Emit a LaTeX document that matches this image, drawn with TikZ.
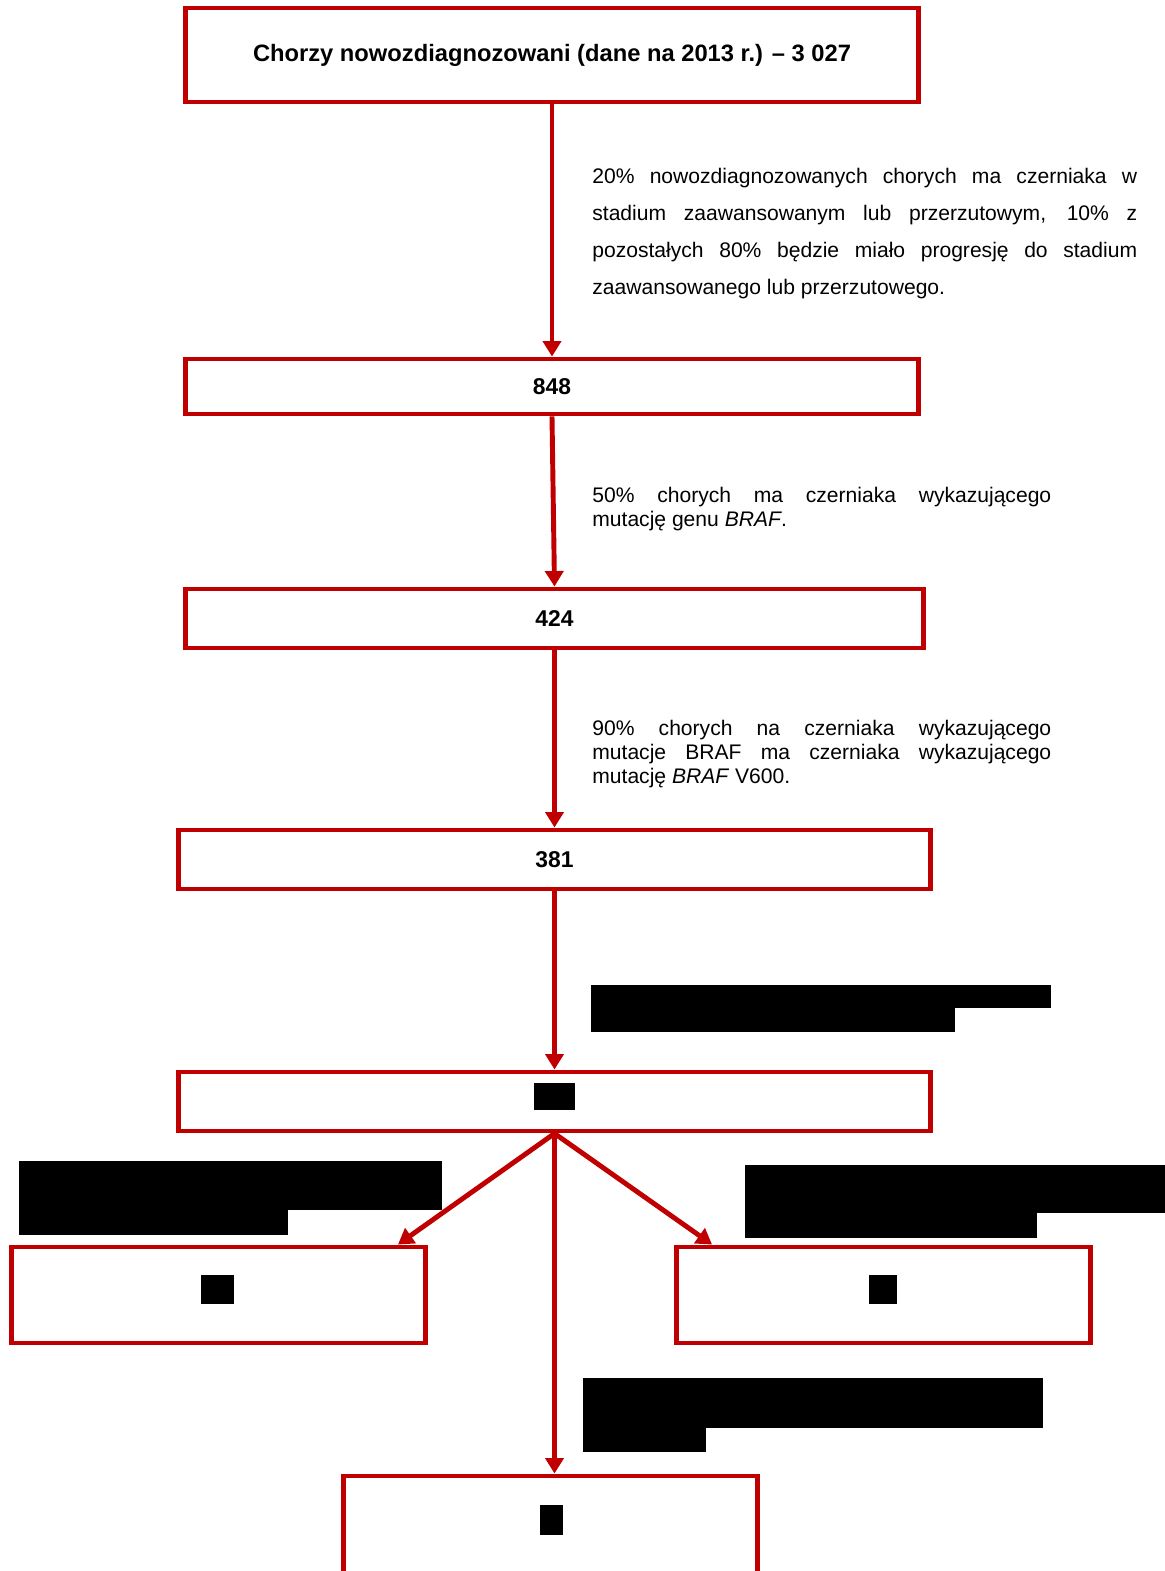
\documentclass[tikz,border=0pt]{standalone}
\usepackage{fontspec}
\setmainfont{Liberation Sans}
\usetikzlibrary{arrows.meta,calc}
\definecolor{flowred}{HTML}{C00000}
\hyphenpenalty=10000
\exhyphenpenalty=10000
\begin{document}
\begin{tikzpicture}[x=0.02cm, y=-0.02cm,
    box/.style={rectangle, draw=flowred, line width=2.8pt, minimum width=15.04cm, minimum height=1.18cm, inner sep=0pt, font=\fontsize{13}{15}\selectfont\bfseries},
    note/.style={anchor=base west, inner sep=0pt, align=justify, text width=9.18cm, font=\fontsize{12}{13.9}\selectfont},
    link/.style={draw=flowred, line width=2.8pt, ->},
    >={Triangle[width=0.36cm, length=0.31cm]}]
    \useasboundingbox (0,0) rectangle (1165,1571);
    \clip (0,0) rectangle (1165,1571);
    % boxes
    \node[box, minimum width=14.66cm, minimum height=1.88cm, font=\fontsize{13.5}{16}\selectfont\bfseries] (start) at (552,55) {Chorzy nowozdiagnozowani (dane na 2013 r.) -- 3 027};
    \node[box, minimum width=14.66cm, minimum height=1.1cm] (n848) at (552,386.5) {848};
    \node[box, minimum width=14.76cm] (n424) at (554.5,618.5) {424};
    \node[box] (n381) at (554.5,859.5) {381};
    \node[box] (nmid) at (554.5,1101.5) {};
    \node[box, minimum width=8.28cm, minimum height=1.92cm] (nleft) at (218.5,1295) {};
    \node[box, minimum width=8.28cm, minimum height=1.92cm] (nright) at (883.5,1295) {};
    \node[box, minimum width=8.28cm, minimum height=2.4cm] (nlast) at (550.5,1536) {};
    % notes
    \node[note, text width=10.9cm, font=\fontsize{12}{21}\selectfont] (noteA) at (592,184) {20\% nowozdiagnozowanych chorych ma czerniaka w\linebreak stadium zaawansowanym lub przerzutowym, 10\% z\linebreak pozostałych 80\% będzie miało progresję do stadium\linebreak zaawansowanego lub przerzutowego.};
    \node[note] (noteB) at (592,502) {50\% chorych ma czerniaka wykazującego\linebreak mutację genu \textit{BRAF}.};
    \node[note] (noteC) at (592,735) {90\% chorych na czerniaka wykazującego\linebreak mutacje BRAF ma czerniaka wykazującego\linebreak mutację \textit{BRAF} V600.};
    % redacted parts
    \fill (591,985) rectangle (1051,1008);
    \fill (591,1008) rectangle (955,1032);
    \fill (19,1161) rectangle (442,1210);
    \fill (19,1210) rectangle (288,1235);
    \fill (745,1165) rectangle (1165,1213);
    \fill (745,1213) rectangle (1037,1238);
    \fill (583,1378) rectangle (1043,1428);
    \fill (583,1428) rectangle (706,1452);
    \fill (534,1083) rectangle (575,1110);
    \fill (201,1275) rectangle (234,1304);
    \fill (869,1275) rectangle (897,1304);
    \fill (540,1505) rectangle (563,1535);
    % connectors
    \draw[link] (start.south) -- (n848.north);
    \draw[link] (n848.south) -- (n424.north);
    \draw[link] (n424.south) -- (n381.north);
    \draw[link] (n381.south) -- (nmid.north);
    \draw[link] (nmid.south) -- ($(nleft.north east)+(-30,0)$);
    \draw[link] (nmid.south) -- ($(nright.north west)+(38,0)$);
    \draw[link] (nmid.south) -- (nmid.south |- nlast.north);
\end{tikzpicture}
\end{document}
